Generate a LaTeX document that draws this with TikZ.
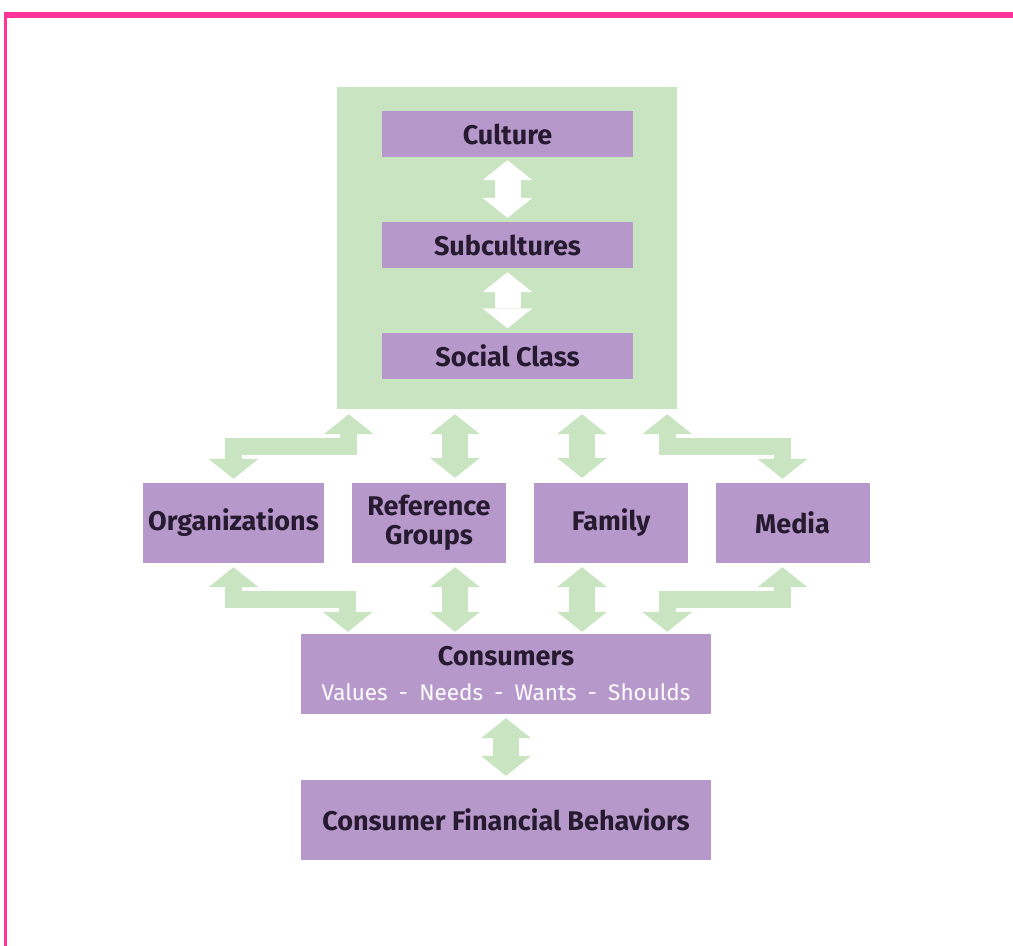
\documentclass[tikz,border=0pt]{standalone}
\usepackage{fontspec}
\setmainfont{Fira Sans}
\usepackage{tikz}
\usetikzlibrary{arrows.meta,calc}
\definecolor{framepink}{RGB}{255,51,153}
\definecolor{softgreen}{RGB}{201,228,193}
\definecolor{boxpurple}{RGB}{183,152,203}
\definecolor{darktext}{RGB}{38,26,48}
\tikzstyle{purplebox}=[rectangle, fill=boxpurple, text=darktext, inner sep=0pt, align=center, font=\fontsize{27}{29}\selectfont\bfseries]
\tikzstyle{innerbox}=[purplebox, minimum width=251pt, minimum height=46pt]
\tikzstyle{midbox}=[purplebox, minimum width=154pt, minimum height=80pt]
\tikzstyle{widebox}=[purplebox, minimum width=410pt, minimum height=80pt]
\tikzstyle{greenarrow}=[draw=softgreen, line width=26pt, >={Triangle[width=50pt,length=20pt,line width=0pt]}, <->]
\tikzstyle{whitearrow}=[greenarrow, draw=white]
\tikzstyle{bentarrow}=[greenarrow, line width=17pt]

\begin{document}
\begin{tikzpicture}[x=1pt,y=-1pt]
    \useasboundingbox (0,0) rectangle (1013,946);

    % pink frame, only top and left side
    \draw[framepink, line width=6pt] (4,15) -- (1013,15);
    \draw[framepink, line width=3pt] (5.5,12) -- (5.5,946);

    % the green society box with its three levels
    \node[fill=softgreen, minimum width=340pt, minimum height=322pt, inner sep=0pt] (society) at (507,248) {};
    \node[innerbox] (culture) at (507.5,134) {Culture};
    \node[innerbox] (subcult) at (507.5,245) {Subcultures};
    \node[innerbox] (socclass) at (507.5,355.5) {Social Class};
    \draw[whitearrow, shorten <=3pt, shorten >=4pt] (culture.south) -- (subcult.north);
    \draw[whitearrow, shorten <=4pt, shorten >=4pt] (subcult.south) -- (socclass.north);

    % middle row
    \node[midbox, minimum width=181pt] (org) at (233.5,523) {Organizations};
    \node[midbox] (refgr) at (429,523) {Reference\\Groups};
    \node[midbox] (family) at (611,523) {Family};
    \node[midbox] (media) at (792.5,523) {Media};

    % consumers and behaviors
    \node[widebox, font=\fontsize{27}{35}\selectfont\bfseries] (consumers) at (506,674)
        {Consumers\\{\color{white}\mdseries\fontsize{22.5}{35}\selectfont Values\enspace-\enspace Needs\enspace-\enspace Wants\enspace-\enspace Shoulds}};
    \node[widebox] (cfb) at (506,820) {Consumer Financial Behaviors};

    % end points of the green arrows
    \coordinate (refN) at ([xshift=26pt]refgr.north);
    \coordinate (refS) at ([xshift=26pt]refgr.south);
    \coordinate (famN) at ([xshift=-29pt]family.north);
    \coordinate (famS) at ([xshift=-29pt]family.south);
    \coordinate (socL) at ([xshift=12pt,yshift=-5pt]society.south west);
    \coordinate (socR) at ([xshift=-10pt,yshift=-5pt]society.south east);
    \coordinate (orgN) at ([yshift=4pt]org.north);
    \coordinate (orgS) at ([yshift=-4pt]org.south);
    \coordinate (medN) at ([xshift=-10pt,yshift=4pt]media.north);
    \coordinate (medS) at ([xshift=-10pt,yshift=-4pt]media.south);
    \coordinate (conL) at ([xshift=47pt,yshift=2pt]consumers.north west);
    \coordinate (conR) at ([xshift=-44pt,yshift=2pt]consumers.north east);

    % straight green arrows
    \draw[greenarrow, shorten <=5pt, shorten >=5pt] (refN |- society.south) -- (refN);
    \draw[greenarrow, shorten <=5pt, shorten >=5pt] (famN |- society.south) -- (famN);
    \draw[greenarrow, shorten <=4pt, shorten >=2pt] (refS) -- (refS |- consumers.north);
    \draw[greenarrow, shorten <=4pt, shorten >=2pt] (famS) -- (famS |- consumers.north);
    \draw[greenarrow, shorten <=4pt, shorten >=4pt] (consumers.south) -- (cfb.north);

    % bent green arrows
    \draw[bentarrow] (socL) |- ($(socL)!0.5!(orgN)$) -| (orgN);
    \draw[bentarrow] (socR) |- ($(socR)!0.5!(medN)$) -| (medN);
    \draw[bentarrow] (orgS) |- ($(orgS)!0.5!(conL)$) -| (conL);
    \draw[bentarrow] (medS) |- ($(medS)!0.5!(conR)$) -| (conR);
\end{tikzpicture}
\end{document}
